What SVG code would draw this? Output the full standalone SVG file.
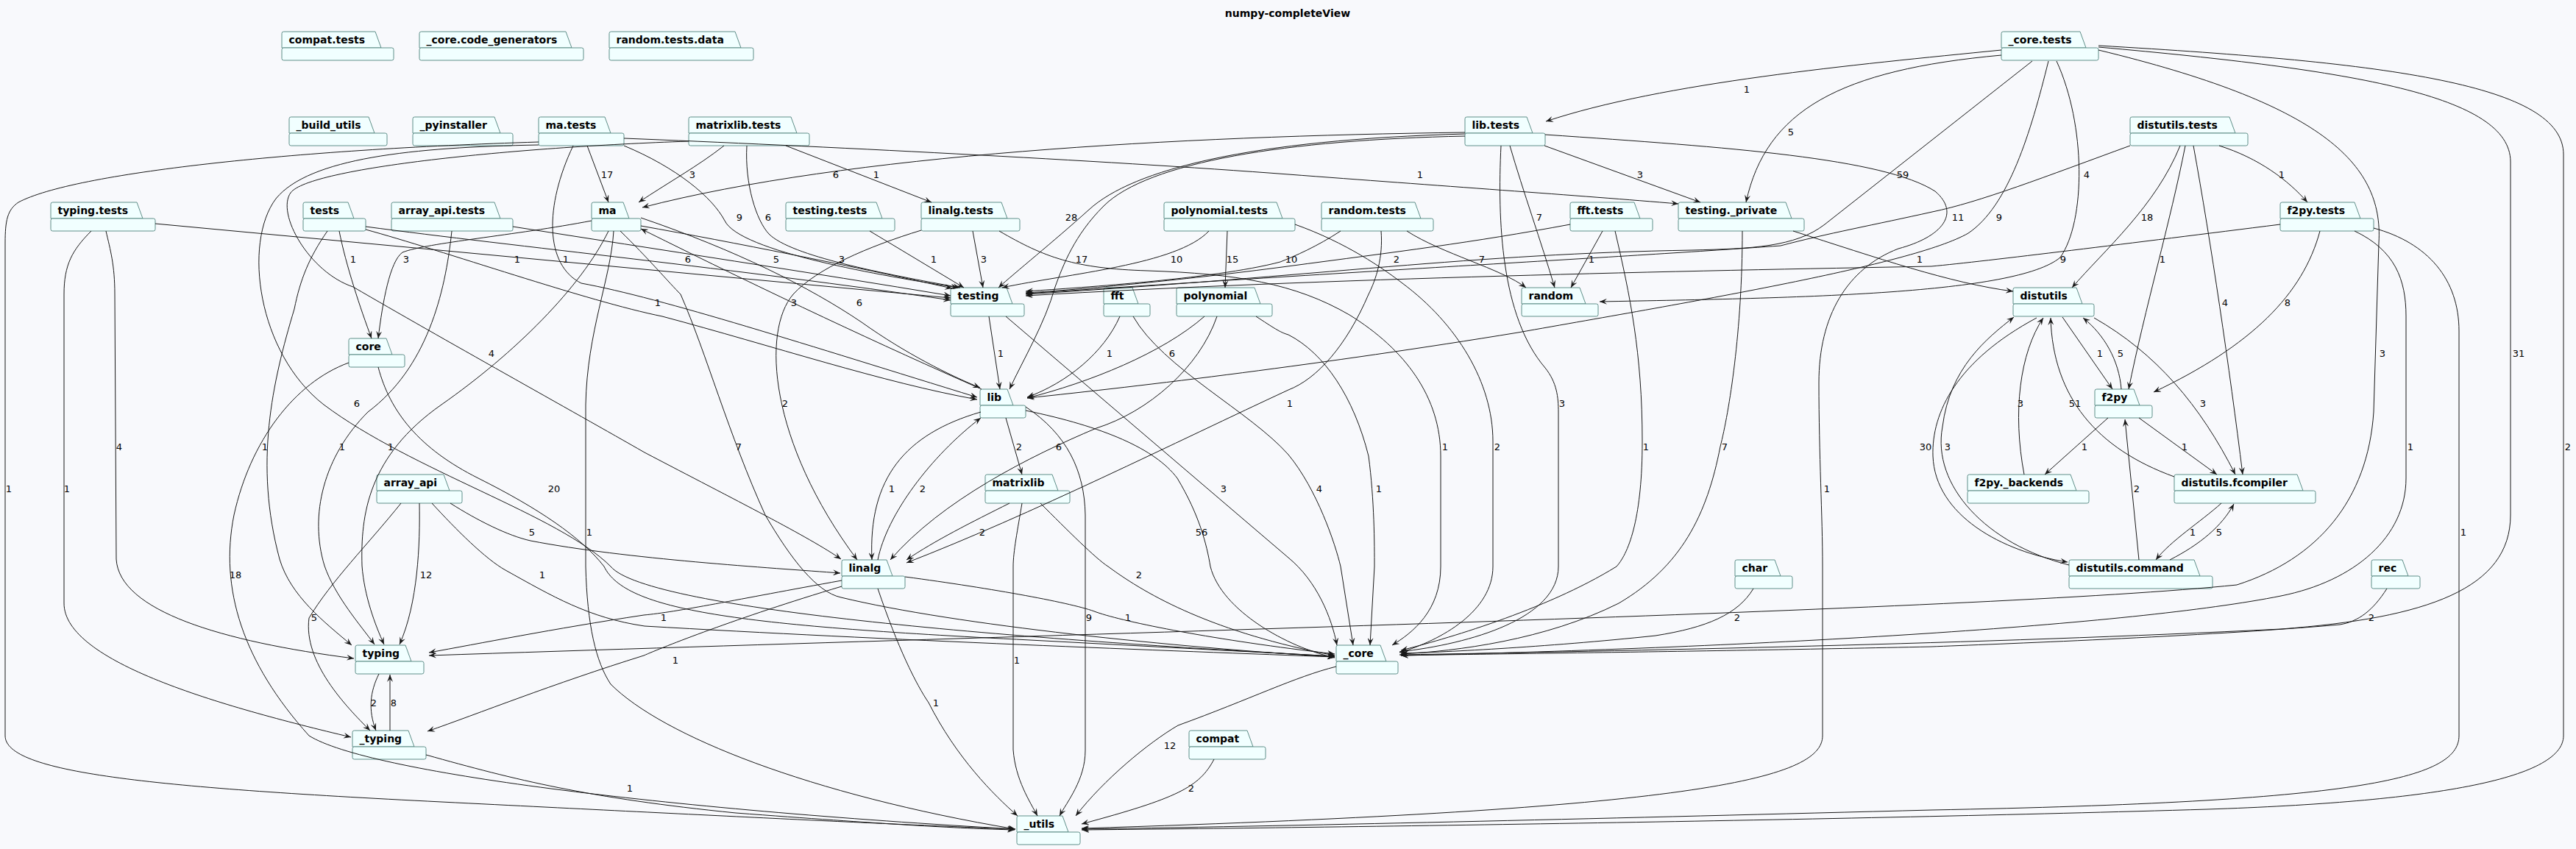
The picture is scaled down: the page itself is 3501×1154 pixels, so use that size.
<svg xmlns="http://www.w3.org/2000/svg" width="3501" height="1154" viewBox="0 0 3501 1154">
<defs>
<style>
.nd path,.nd rect{fill:#F1FFFF;stroke:#5F8F89;stroke-width:1}
.nd text{font-family:"DejaVu Sans","Liberation Sans",sans-serif;font-weight:bold;font-size:14px;fill:#000}
.ed path{fill:none;stroke:#181818;stroke-width:1;marker-end:url(#arr)}
.ed text{font-family:"DejaVu Sans","Liberation Sans",sans-serif;font-size:13px;fill:#000;text-anchor:middle}
.title{font-family:"DejaVu Sans","Liberation Sans",sans-serif;font-weight:bold;font-size:14px;fill:#000;text-anchor:middle}
</style>
<marker id="arr" viewBox="0 0 10 8" refX="10" refY="4" markerWidth="10" markerHeight="8" markerUnits="userSpaceOnUse" orient="auto"><path d="M0,0 L10,4 L0,8 L4,4 Z" fill="#181818"/></marker>
</defs>
<rect width="3501" height="1154" fill="#F8F9FC"/>
<text class="title" x="1750" y="23">numpy-completeView</text>

<g id="nodes">
<g id="n_compat_tests" class="nd"><path d="M383,65 V45.5 Q383,43 385.5,43 H510 L518,65 Z"/><rect x="383" y="65" width="152" height="17" rx="2.5"/><text x="392.5" y="59">compat.tests</text></g>
<g id="n_core_code_generators" class="nd"><path d="M570,65 V45.5 Q570,43 572.5,43 H769 L777,65 Z"/><rect x="570" y="65" width="223" height="17" rx="2.5"/><text x="579.5" y="59">_core.code_generators</text></g>
<g id="n_random_tests_data" class="nd"><path d="M828,65 V45.5 Q828,43 830.5,43 H999 L1007,65 Z"/><rect x="828" y="65" width="196" height="17" rx="2.5"/><text x="837.5" y="59">random.tests.data</text></g>
<g id="n_core_tests" class="nd"><path d="M2720,65 V45.5 Q2720,43 2722.5,43 H2827 L2835,65 Z"/><rect x="2720" y="65" width="132" height="17" rx="2.5"/><text x="2729.5" y="59">_core.tests</text></g>

<g id="n_build_utils" class="nd"><path d="M393,181 V161.5 Q393,159 395.5,159 H501 L509,181 Z"/><rect x="393" y="181" width="133" height="17" rx="2.5"/><text x="402.5" y="175">_build_utils</text></g>
<g id="n_pyinstaller" class="nd"><path d="M561,181 V161.5 Q561,159 563.5,159 H672 L680,181 Z"/><rect x="561" y="181" width="136" height="17" rx="2.5"/><text x="570.5" y="175">_pyinstaller</text></g>
<g id="n_ma_tests" class="nd"><path d="M732,181 V161.5 Q732,159 734.5,159 H822 L830,181 Z"/><rect x="732" y="181" width="116" height="17" rx="2.5"/><text x="741.5" y="175">ma.tests</text></g>
<g id="n_matrixlib_tests" class="nd"><path d="M936,181 V161.5 Q936,159 938.5,159 H1075 L1083,181 Z"/><rect x="936" y="181" width="164" height="17" rx="2.5"/><text x="945.5" y="175">matrixlib.tests</text></g>
<g id="n_lib_tests" class="nd"><path d="M1991,181 V161.5 Q1991,159 1993.5,159 H2075 L2083,181 Z"/><rect x="1991" y="181" width="109" height="17" rx="2.5"/><text x="2000.5" y="175">lib.tests</text></g>
<g id="n_distutils_tests" class="nd"><path d="M2895,181 V161.5 Q2895,159 2897.5,159 H3030 L3038,181 Z"/><rect x="2895" y="181" width="160" height="17" rx="2.5"/><text x="2904.5" y="175">distutils.tests</text></g>

<g id="n_typing_tests" class="nd"><path d="M69,297 V277.5 Q69,275 71.5,275 H186 L194,297 Z"/><rect x="69" y="297" width="142" height="17" rx="2.5"/><text x="78.5" y="291">typing.tests</text></g>
<g id="n_tests" class="nd"><path d="M412,297 V277.5 Q412,275 414.5,275 H473 L481,297 Z"/><rect x="412" y="297" width="85" height="17" rx="2.5"/><text x="421.5" y="291">tests</text></g>
<g id="n_array_api_tests" class="nd"><path d="M532,297 V277.5 Q532,275 534.5,275 H672 L680,297 Z"/><rect x="532" y="297" width="165" height="17" rx="2.5"/><text x="541.5" y="291">array_api.tests</text></g>
<g id="n_ma" class="nd"><path d="M804,297 V277.5 Q804,275 806.5,275 H847 L855,297 Z"/><rect x="804" y="297" width="67" height="17" rx="2.5"/><text x="813.5" y="291">ma</text></g>
<g id="n_testing_tests" class="nd"><path d="M1068,297 V277.5 Q1068,275 1070.5,275 H1191 L1199,297 Z"/><rect x="1068" y="297" width="148" height="17" rx="2.5"/><text x="1077.5" y="291">testing.tests</text></g>
<g id="n_linalg_tests" class="nd"><path d="M1252,297 V277.5 Q1252,275 1254.5,275 H1361 L1369,297 Z"/><rect x="1252" y="297" width="134" height="17" rx="2.5"/><text x="1261.5" y="291">linalg.tests</text></g>
<g id="n_polynomial_tests" class="nd"><path d="M1582,297 V277.5 Q1582,275 1584.5,275 H1735 L1743,297 Z"/><rect x="1582" y="297" width="178" height="17" rx="2.5"/><text x="1591.5" y="291">polynomial.tests</text></g>
<g id="n_random_tests" class="nd"><path d="M1796,297 V277.5 Q1796,275 1798.5,275 H1923 L1931,297 Z"/><rect x="1796" y="297" width="152" height="17" rx="2.5"/><text x="1805.5" y="291">random.tests</text></g>
<g id="n_fft_tests" class="nd"><path d="M2134,297 V277.5 Q2134,275 2136.5,275 H2221 L2229,297 Z"/><rect x="2134" y="297" width="112" height="17" rx="2.5"/><text x="2143.5" y="291">fft.tests</text></g>
<g id="n_testing_private" class="nd"><path d="M2281,297 V277.5 Q2281,275 2283.5,275 H2427 L2435,297 Z"/><rect x="2281" y="297" width="171" height="17" rx="2.5"/><text x="2290.5" y="291">testing._private</text></g>
<g id="n_f2py_tests" class="nd"><path d="M3099,297 V277.5 Q3099,275 3101.5,275 H3200 L3208,297 Z"/><rect x="3099" y="297" width="127" height="17" rx="2.5"/><text x="3108.5" y="291">f2py.tests</text></g>

<g id="n_testing" class="nd"><path d="M1292,413 V393.5 Q1292,391 1294.5,391 H1368 L1376,413 Z"/><rect x="1292" y="413" width="100" height="17" rx="2.5"/><text x="1301.5" y="407">testing</text></g>
<g id="n_fft" class="nd"><path d="M1500,413 V393.5 Q1500,391 1502.5,391 H1539 L1547,413 Z"/><rect x="1500" y="413" width="63" height="17" rx="2.5"/><text x="1509.5" y="407">fft</text></g>
<g id="n_polynomial" class="nd"><path d="M1599,413 V393.5 Q1599,391 1601.5,391 H1705 L1713,413 Z"/><rect x="1599" y="413" width="130" height="17" rx="2.5"/><text x="1608.5" y="407">polynomial</text></g>
<g id="n_random" class="nd"><path d="M2068,413 V393.5 Q2068,391 2070.5,391 H2147 L2155,413 Z"/><rect x="2068" y="413" width="104" height="17" rx="2.5"/><text x="2077.5" y="407">random</text></g>
<g id="n_distutils" class="nd"><path d="M2736,413 V393.5 Q2736,391 2738.5,391 H2822 L2830,413 Z"/><rect x="2736" y="413" width="110" height="17" rx="2.5"/><text x="2745.5" y="407">distutils</text></g>

<g id="n_core" class="nd"><path d="M474,482 V462.5 Q474,460 476.5,460 H525 L533,482 Z"/><rect x="474" y="482" width="76" height="17" rx="2.5"/><text x="483.5" y="476">core</text></g>

<g id="n_lib" class="nd"><path d="M1332,551 V531.5 Q1332,529 1334.5,529 H1369 L1377,551 Z"/><rect x="1332" y="551" width="62" height="17" rx="2.5"/><text x="1341.5" y="545">lib</text></g>
<g id="n_f2py" class="nd"><path d="M2847,551 V531.5 Q2847,529 2849.5,529 H2900 L2908,551 Z"/><rect x="2847" y="551" width="78" height="17" rx="2.5"/><text x="2856.5" y="545">f2py</text></g>

<g id="n_array_api" class="nd"><path d="M512,667 V647.5 Q512,645 514.5,645 H603 L611,667 Z"/><rect x="512" y="667" width="116" height="17" rx="2.5"/><text x="521.5" y="661">array_api</text></g>
<g id="n_matrixlib" class="nd"><path d="M1339,667 V647.5 Q1339,645 1341.5,645 H1430 L1438,667 Z"/><rect x="1339" y="667" width="115" height="17" rx="2.5"/><text x="1348.5" y="661">matrixlib</text></g>
<g id="n_f2py_backends" class="nd"><path d="M2674,667 V647.5 Q2674,645 2676.5,645 H2814 L2822,667 Z"/><rect x="2674" y="667" width="165" height="17" rx="2.5"/><text x="2683.5" y="661">f2py._backends</text></g>
<g id="n_distutils_fcompiler" class="nd"><path d="M2955,667 V647.5 Q2955,645 2957.5,645 H3122 L3130,667 Z"/><rect x="2955" y="667" width="192" height="17" rx="2.5"/><text x="2964.5" y="661">distutils.fcompiler</text></g>

<g id="n_linalg" class="nd"><path d="M1144,783 V763.5 Q1144,761 1146.5,761 H1205 L1213,783 Z"/><rect x="1144" y="783" width="86" height="17" rx="2.5"/><text x="1153.5" y="777">linalg</text></g>
<g id="n_char" class="nd"><path d="M2358,783 V763.5 Q2358,761 2360.5,761 H2412 L2420,783 Z"/><rect x="2358" y="783" width="78" height="17" rx="2.5"/><text x="2367.5" y="777">char</text></g>
<g id="n_distutils_command" class="nd"><path d="M2812,783 V763.5 Q2812,761 2814.5,761 H2982 L2990,783 Z"/><rect x="2812" y="783" width="195" height="17" rx="2.5"/><text x="2821.5" y="777">distutils.command</text></g>
<g id="n_rec" class="nd"><path d="M3223,783 V763.5 Q3223,761 3225.5,761 H3265 L3273,783 Z"/><rect x="3223" y="783" width="66" height="17" rx="2.5"/><text x="3232.5" y="777">rec</text></g>

<g id="n_typing" class="nd"><path d="M483,899 V879.5 Q483,877 485.5,877 H551 L559,899 Z"/><rect x="483" y="899" width="93" height="17" rx="2.5"/><text x="492.5" y="893">typing</text></g>
<g id="n_core_" class="nd"><path d="M1816,899 V879.5 Q1816,877 1818.5,877 H1876 L1884,899 Z"/><rect x="1816" y="899" width="84" height="17" rx="2.5"/><text x="1825.5" y="893">_core</text></g>

<g id="n_typing_" class="nd"><path d="M479,1015 V995.5 Q479,993 481.5,993 H555 L563,1015 Z"/><rect x="479" y="1015" width="100" height="17" rx="2.5"/><text x="488.5" y="1009">_typing</text></g>
<g id="n_compat" class="nd"><path d="M1616,1015 V995.5 Q1616,993 1618.5,993 H1695 L1703,1015 Z"/><rect x="1616" y="1015" width="104" height="17" rx="2.5"/><text x="1625.5" y="1009">compat</text></g>

<g id="n_utils" class="nd"><path d="M1382,1131 V1111.5 Q1382,1109 1384.5,1109 H1444 L1452,1131 Z"/><rect x="1382" y="1131" width="86" height="17" rx="2.5"/><text x="1391.5" y="1125">_utils</text></g>
</g>

<g id="connectors">
<g class="ed"><path d="M2720,68 C2520,88 2260,112 2101,165"/><text x="2374" y="126">1</text></g>
<g class="ed"><path d="M2720,75 C2500,95 2400,150 2373,275"/><text x="2434" y="184">5</text></g>
<g class="ed"><path d="M2762,83 L2480,305 C2440,336 2380,338 2300,340 C2000,345 1800,375 1394,400"/><text x="2586" y="242">59</text></g>
<g class="ed"><path d="M2784,83 C2760,180 2730,280 2675,317 C2600,360 2300,410 2063,452 C1800,495 1550,525 1396,541"/><text x="2717" y="300">9</text></g>
<g class="ed"><path d="M2795,83 C2835,170 2835,300 2800,350 C2740,400 2450,405 2174,410"/><text x="2836" y="242">4</text></g>
<g class="ed"><path d="M2852,68 C3150,140 3240,220 3233,330 L3226,560 C3218,680 3150,760 3040,795 C2700,830 1500,860 583,891"/><text x="3238" y="485">3</text></g>
<g class="ed"><path d="M2852,64 C3200,95 3412,130 3412,220 L3412,700 C3412,800 3300,840 3100,855 C2700,875 2200,885 1902,890"/><text x="3423" y="485">31</text></g>
<g class="ed"><path d="M2852,62 C3250,85 3484,115 3484,210 L3484,1000 C3484,1060 3300,1090 3000,1100 C2500,1115 1800,1125 1470,1128"/><text x="3490" y="612">2</text></g>

<g class="ed"><path d="M1991,180 C1600,185 1150,210 873,282"/><text x="1136" y="242">6</text></g>
<g class="ed"><path d="M1991,182 C1700,190 1540,230 1480,285 C1430,330 1380,370 1357,391"/><text x="1456" y="300">28</text></g>
<g class="ed"><path d="M1991,185 C1750,190 1560,220 1500,280 C1460,320 1445,360 1434,390 C1420,440 1390,490 1372,529"/><text x="1470" y="357">17</text></g>
<g class="ed"><path d="M2099,198 L2311,275"/><text x="2229" y="242">3</text></g>
<g class="ed"><path d="M2052,198 C2070,260 2095,330 2113,391"/><text x="2092" y="300">7</text></g>
<g class="ed"><path d="M2040,198 C2035,300 2040,430 2100,500 C2116,520 2118,540 2118,560 L2118,770 C2118,840 2000,875 1902,886"/><text x="2123" y="553">3</text></g>
<g class="ed"><path d="M2100,183 C2350,200 2560,215 2630,260 C2665,290 2640,322 2580,338 C2510,365 2472,430 2472,520 C2472,620 2477,700 2477,770 L2477,1000 C2477,1060 2300,1100 1470,1126"/><text x="2483" y="669">1</text></g>

<g class="ed"><path d="M798,198 L827,275"/><text x="825" y="242">17</text></g>
<g class="ed"><path d="M848,188 C1100,198 1500,218 1751,237 C1950,252 2150,266 2281,277"/><text x="1930" y="242">1</text></g>
<g class="ed"><path d="M848,198 C920,228 968,268 985,300 C1005,342 1200,375 1302,391"/><text x="1005" y="300">9</text></g>
<g class="ed"><path d="M779,198 C740,280 740,360 790,385 C900,405 1100,470 1328,540"/><text x="769" y="357">1</text></g>
<g class="ed"><path d="M732,197 C560,200 420,215 375,270 C330,330 350,480 440,550 C560,640 760,700 830,770 C880,830 1400,870 1814,892"/><text x="485" y="553">6</text></g>
<g class="ed"><path d="M732,193 C400,203 100,235 25,275 C10,285 7,300 7,330 L7,1000 C7,1050 200,1070 600,1090 C1000,1110 1200,1120 1379,1127"/><text x="12" y="669">1</text></g>

<g class="ed"><path d="M984,198 C950,225 905,250 868,275"/><text x="941" y="242">3</text></g>
<g class="ed"><path d="M1068,198 L1266,275"/><text x="1191" y="242">1</text></g>
<g class="ed"><path d="M1015,198 C1012,250 1028,300 1045,318 C1075,348 1200,372 1305,391"/><text x="1044" y="300">6</text></g>
<g class="ed"><path d="M936,192 C700,200 420,228 395,262 C375,290 420,370 480,390 C600,460 780,560 876,615 C1000,680 1100,730 1143,760"/><text x="668" y="485">4</text></g>

<g class="ed"><path d="M1322,314 L1336,391"/><text x="1337" y="357">3</text></g>
<g class="ed"><path d="M1252,313 C1180,335 1110,365 1078,400 C1035,450 1045,600 1165,761"/><text x="1067" y="553">2</text></g>
<g class="ed"><path d="M1358,314 C1420,350 1460,365 1560,368 C1680,372 1760,385 1834,428 C1910,475 1958,540 1958,620 L1958,770 C1958,830 1920,860 1892,877"/><text x="1964" y="612">1</text></g>
<g class="ed"><path d="M1182,314 L1310,391"/><text x="1269" y="357">1</text></g>

<g class="ed"><path d="M1643,314 C1600,360 1450,372 1362,391"/><text x="1599" y="357">10</text></g>
<g class="ed"><path d="M1668,314 L1665,391"/><text x="1675" y="357">15</text></g>
<g class="ed"><path d="M1760,305 C1830,330 1880,365 1906,385 C1980,440 2029,520 2029,600 L2029,770 C2029,830 1960,870 1902,887"/><text x="2035" y="612">2</text></g>

<g class="ed"><path d="M1822,314 C1790,335 1760,348 1740,356 C1650,380 1450,392 1394,396"/><text x="1755" y="357">10</text></g>
<g class="ed"><path d="M1912,314 C1960,345 2040,365 2074,391"/><text x="2014" y="357">7</text></g>
<g class="ed"><path d="M1877,314 C1880,350 1870,380 1860,400 C1830,470 1790,515 1751,530 C1600,600 1400,700 1232,765"/><text x="1753" y="553">1</text></g>

<g class="ed"><path d="M2134,305 C2000,330 1900,342 1750,362 C1600,382 1450,395 1394,398"/><text x="1898" y="357">2</text></g>
<g class="ed"><path d="M2178,314 L2135,391"/><text x="2163" y="357">1</text></g>
<g class="ed"><path d="M2195,314 C2215,400 2232,480 2232,600 C2232,700 2215,750 2197,770 C2100,830 1960,870 1904,884"/><text x="2237" y="612">1</text></g>

<g class="ed"><path d="M2437,314 C2550,350 2650,385 2736,396"/><text x="2609" y="357">1</text></g>
<g class="ed"><path d="M2368,314 C2368,450 2350,560 2338,607 C2320,700 2285,770 2200,820 C2100,870 1980,885 1904,889"/><text x="2344" y="612">7</text></g>

<g class="ed"><path d="M2895,198 C2780,240 2690,275 2626,288 C2550,305 2480,318 2420,334 C2200,350 1900,365 1394,399"/><text x="2661" y="300">11</text></g>
<g class="ed"><path d="M2963,198 C2930,280 2860,340 2816,391"/><text x="2918" y="300">18</text></g>
<g class="ed"><path d="M2970,198 C2950,300 2915,420 2893,529"/><text x="2939" y="357">1</text></g>
<g class="ed"><path d="M2981,198 C3005,330 3030,500 3048,645"/><text x="3024" y="416">4</text></g>
<g class="ed"><path d="M3016,198 C3070,215 3110,245 3136,275"/><text x="3101" y="242">1</text></g>

<g class="ed"><path d="M3099,305 C2900,330 2700,355 2625,362 C2300,368 1800,378 1394,402"/><text x="2804" y="357">9</text></g>
<g class="ed"><path d="M3153,314 C3130,400 3060,470 2927,533"/><text x="3109" y="416">8</text></g>
<g class="ed"><path d="M3200,314 C3255,340 3270,380 3270,430 L3270,650 C3270,730 3200,790 3100,810 C2900,850 2400,880 1904,891"/><text x="3276" y="612">1</text></g>
<g class="ed"><path d="M3226,310 C3300,330 3342,380 3342,450 L3342,1000 C3342,1060 3200,1090 2625,1101 C2200,1112 1800,1122 1470,1127"/><text x="3348" y="728">1</text></g>
<g class="ed"><path d="M3244,800 C3225,830 3205,845 3180,849 C3000,865 2700,876 2625,879 C2300,886 2000,889 1904,891"/><text x="3223" y="844">2</text></g>
<g class="ed"><path d="M2383,800 C2362,835 2320,853 2250,864 C2100,880 1950,887 1904,888"/><text x="2361" y="844">2</text></g>

<g class="ed"><path d="M2803,431 L2871,529"/><text x="2854" y="485">1</text></g>
<g class="ed"><path d="M2883,529 C2880,490 2860,455 2831,432"/><text x="2882" y="485">5</text></g>
<g class="ed"><path d="M2865,568 L2779,645"/><text x="2833" y="612">1</text></g>
<g class="ed"><path d="M2907,568 L3013,645"/><text x="2969" y="612">1</text></g>
<g class="ed"><path d="M2751,645 C2735,560 2745,480 2777,432"/><text x="2746" y="553">3</text></g>
<g class="ed"><path d="M2955,648 C2850,610 2790,540 2787,432"/><text x="2820" y="553">51</text></g>
<g class="ed"><path d="M2846,432 C2930,480 2990,550 3038,645"/><text x="2994" y="553">3</text></g>
<g class="ed"><path d="M2812,768 C2700,740 2625,660 2640,580 C2650,500 2700,460 2737,431"/><text x="2647" y="612">3</text></g>
<g class="ed"><path d="M2768,432 C2660,490 2625,560 2627,620 C2630,700 2720,750 2810,764"/><text x="2617" y="612">30</text></g>
<g class="ed"><path d="M2907,761 L2888,570"/><text x="2904" y="669">2</text></g>
<g class="ed"><path d="M3019,684 C2990,710 2950,735 2930,761"/><text x="2980" y="728">1</text></g>
<g class="ed"><path d="M2949,761 C2990,740 3020,715 3036,685"/><text x="3016" y="728">5</text></g>

<g class="ed"><path d="M211,304 L1292,405"/><text x="703" y="357">1</text></g>
<g class="ed"><path d="M144,314 C150,340 156,360 156,400 L158,760 C162,830 300,872 481,895"/><text x="162" y="612">4</text></g>
<g class="ed"><path d="M124,314 C98,340 87,360 87,400 L87,820 C87,900 300,960 477,1002"/><text x="91" y="669">1</text></g>
<g class="ed"><path d="M461,314 C470,360 490,420 505,460"/><text x="480" y="357">1</text></g>
<g class="ed"><path d="M804,300 C700,320 580,330 547,343 C530,355 520,410 514,460"/><text x="552" y="357">3</text></g>
<g class="ed"><path d="M445,314 C420,350 408,380 400,420 C370,520 345,630 380,760 C395,810 440,845 478,877"/><text x="360" y="612">1</text></g>
<g class="ed"><path d="M614,314 C605,400 580,500 500,560 C440,620 420,700 441,769 C455,810 490,850 509,876"/><text x="465" y="612">1</text></g>
<g class="ed"><path d="M827,314 C790,390 700,480 600,550 C500,620 490,700 492,769 C495,810 510,850 522,876"/><text x="531" y="612">1</text></g>
<g class="ed"><path d="M497,312 C600,340 800,410 900,430 C1050,470 1200,520 1328,543"/><text x="894" y="416">1</text></g>
<g class="ed"><path d="M497,308 C700,335 1000,365 1292,408"/><text x="935" y="357">6</text></g>
<g class="ed"><path d="M697,308 C900,340 1100,370 1292,402"/><text x="1055" y="357">5</text></g>
<g class="ed"><path d="M871,307 C1000,330 1150,360 1294,392"/><text x="1144" y="357">3</text></g>
<g class="ed"><path d="M1334,529 C1200,470 1050,400 871,311"/><text x="1079" y="416">3</text></g>
<g class="ed"><path d="M871,296 C1000,340 1100,390 1171,438 C1230,480 1290,510 1332,527"/><text x="1168" y="416">6</text></g>
<g class="ed"><path d="M843,314 C880,350 910,385 925,400 C960,480 990,590 1040,700 C1075,760 1110,805 1143,812 C1300,850 1600,880 1814,893"/><text x="1004" y="612">7</text></g>
<g class="ed"><path d="M834,314 C830,380 798,450 796,550 L796,770 C798,850 810,900 830,930 C900,1000 1100,1080 1380,1127"/><text x="801" y="728">1</text></g>
<g class="ed"><path d="M474,493 C400,520 340,600 318,700 C298,800 330,900 420,1000 C500,1050 900,1100 1380,1127"/><text x="320" y="786">18</text></g>
<g class="ed"><path d="M514,499 C530,560 570,610 650,650 C730,690 790,730 821,770 C850,830 1000,850 1400,870 L1814,892"/><text x="753" y="669">20</text></g>
<g class="ed"><path d="M570,684 C571,740 568,820 543,876"/><text x="579" y="786">12</text></g>
<g class="ed"><path d="M545,684 C500,740 450,790 420,840 C412,900 470,960 503,993"/><text x="427" y="844">5</text></g>
<g class="ed"><path d="M612,684 C650,708 690,728 721,735 C850,760 1050,772 1142,779"/><text x="723" y="728">5</text></g>
<g class="ed"><path d="M587,684 C620,720 660,760 687,775 C750,810 800,840 876,851 C1200,870 1600,885 1814,893"/><text x="737" y="786">1</text></g>
<g class="ed"><path d="M515,916 C503,940 500,965 511,993"/><text x="508" y="960">2</text></g>
<g class="ed"><path d="M530,993 L530,917"/><text x="535" y="960">8</text></g>
<g class="ed"><path d="M579,1026 C700,1060 800,1085 1000,1105 C1200,1120 1300,1126 1379,1128"/><text x="856" y="1076">1</text></g>
<g class="ed"><path d="M1144,789 C1000,815 920,832 875,836 C750,855 650,875 583,887"/><text x="902" y="844">1</text></g>
<g class="ed"><path d="M1144,797 C1000,840 900,880 875,891 C750,930 650,970 581,994"/><text x="918" y="902">1</text></g>
<g class="ed"><path d="M1193,800 C1220,880 1245,930 1262,955 C1300,1030 1350,1080 1383,1109"/><text x="1272" y="960">1</text></g>
<g class="ed"><path d="M1230,784 C1350,800 1460,820 1490,832 C1530,846 1650,870 1814,889"/><text x="1533" y="844">1</text></g>
<g class="ed"><path d="M1193,761 C1205,700 1265,620 1333,568"/><text x="1254" y="669">2</text></g>
<g class="ed"><path d="M1333,560 C1230,590 1180,650 1185,761"/><text x="1212" y="669">1</text></g>
<g class="ed"><path d="M1367,568 L1389,645"/><text x="1385" y="612">2</text></g>
<g class="ed"><path d="M1394,558 C1500,580 1570,610 1600,650 C1630,700 1640,740 1645,770 C1660,830 1750,880 1814,894"/><text x="1633" y="728">56</text></g>
<g class="ed"><path d="M1394,553 C1450,590 1474,640 1475,700 L1475,1020 C1475,1060 1450,1090 1440,1109"/><text x="1480" y="844">9</text></g>
<g class="ed"><path d="M1372,684 C1320,710 1270,735 1232,761"/><text x="1335" y="728">2</text></g>
<g class="ed"><path d="M1389,684 C1383,720 1377,750 1377,770 L1377,1019 C1380,1060 1400,1090 1410,1109"/><text x="1382" y="902">1</text></g>
<g class="ed"><path d="M1414,684 C1450,720 1490,760 1506,770 C1560,810 1650,860 1814,891"/><text x="1548" y="786">2</text></g>
<g class="ed"><path d="M1344,430 L1359,529"/><text x="1360" y="485">1</text></g>
<g class="ed"><path d="M1367,430 L1751,758 C1790,790 1810,840 1817,877"/><text x="1663" y="669">3</text></g>
<g class="ed"><path d="M1522,430 C1500,480 1450,520 1396,540"/><text x="1508" y="485">1</text></g>
<g class="ed"><path d="M1540,430 C1580,500 1700,560 1751,618 C1790,665 1815,740 1822,770 L1839,877"/><text x="1793" y="669">4</text></g>
<g class="ed"><path d="M1637,430 C1580,480 1480,520 1396,541"/><text x="1593" y="485">6</text></g>
<g class="ed"><path d="M1654,430 C1630,500 1560,560 1490,582 C1400,620 1280,680 1210,761"/><text x="1439" y="612">6</text></g>
<g class="ed"><path d="M1707,430 C1730,445 1740,452 1751,455 C1800,480 1840,540 1860,620 C1868,680 1868,740 1868,770 L1862,877"/><text x="1874" y="669">1</text></g>
<g class="ed"><path d="M1650,1032 C1630,1070 1600,1085 1470,1120"/><text x="1619" y="1076">2</text></g>
<g class="ed"><path d="M1816,906 C1760,920 1700,950 1601,986 C1560,1010 1500,1060 1462,1109"/><text x="1590" y="1018">12</text></g>
</g>
</svg>
